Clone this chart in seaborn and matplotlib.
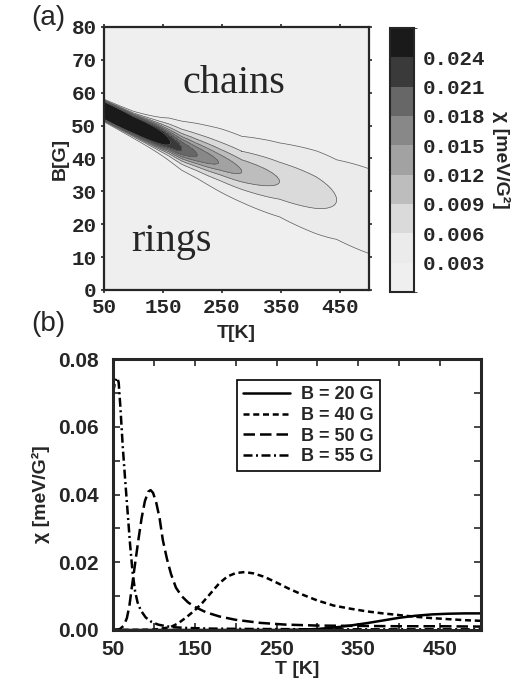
import numpy as np
import pandas as pd
import seaborn as sns
import matplotlib.pyplot as plt
from matplotlib.colors import ListedColormap, BoundaryNorm

# ---- panel (a): ridge of chi(T, B) ----
ridge_T = [50, 100, 160, 182, 208, 247, 284, 348, 411, 445, 500]
ridge_B = [54.6, 50.1, 45.0, 42.8, 41.0, 38.6, 36.0, 33.0, 29.5, 27.4, 24.0]
ridge_peak = [0.075, 0.040, 0.0245, 0.021, 0.018, 0.0148, 0.012, 0.009, 0.0072, 0.006, 0.0051]
ridge_w_up = [2.5, 2.8, 3.8, 4.3, 4.8, 5.3, 6.2, 8.3, 10.8, 12.2, 15.4]
ridge_w_lo = [2.5, 2.6, 2.9, 3.2, 3.5, 4.4, 5.4, 7.6, 10.5, 12.0, 15.4]
ridge_n = [10, 6, 3, 2.6, 2.3, 2, 2, 2, 2, 2, 2]

levels = [0, 0.003, 0.006, 0.009, 0.012, 0.015, 0.018, 0.021, 0.024, 0.027]
grey_shades = ['#efefef', '#ebebeb', '#dadada', '#bdbdbd', '#a2a2a2',
               '#888888', '#676767', '#3a3a3a', '#1a1a1a']
cbar_ticks = [0.003, 0.006, 0.009, 0.012, 0.015, 0.018, 0.021, 0.024]

# ---- panel (b): chi(T) cuts at fixed field ----
T_55 = [50, 52, 54, 55.5, 57, 59, 62, 65, 68, 71, 74, 77, 80, 84, 90, 97, 105, 115,
        125, 140, 170, 220, 300, 400, 500]
chi_55 = [0.0700, 0.0725, 0.0742, 0.0744, 0.0730, 0.0660, 0.0540, 0.0440, 0.0345,
          0.0250, 0.0170, 0.0115, 0.0082, 0.0058, 0.0037, 0.0024, 0.0016, 0.0011,
          0.0008, 0.0006, 0.0004, 0.0003, 0.0002, 0.0002, 0.0002]

T_50 = [50, 58, 63, 67, 70, 73, 77, 81, 85, 89, 93, 96, 99, 103, 107, 111, 116, 121,
        127, 134, 142, 152, 164, 180, 200, 230, 260, 300, 350, 400, 450, 500]
chi_50 = [0, 0.0002, 0.0012, 0.0035, 0.0070, 0.0125, 0.0195, 0.0265, 0.0330, 0.0380,
          0.0408, 0.0413, 0.0405, 0.0375, 0.0330, 0.0265, 0.0210, 0.0165, 0.0125,
          0.0100, 0.0081, 0.0066, 0.0052, 0.0040, 0.0030, 0.0021, 0.0016, 0.0013,
          0.0012, 0.0011, 0.0011, 0.0010]

T_40 = [50, 100, 120, 130, 140, 150, 160, 170, 180, 190, 200, 211, 222, 235, 250, 265,
        280, 300, 320, 340, 360, 380, 400, 420, 440, 460, 480, 500]
chi_40 = [0, 0.0001, 0.0008, 0.0020, 0.0038, 0.0058, 0.0082, 0.0110, 0.0138, 0.0158,
          0.0168, 0.0171, 0.0167, 0.0157, 0.0140, 0.0122, 0.0106, 0.0087, 0.0072,
          0.0063, 0.0055, 0.0049, 0.0044, 0.0039, 0.0035, 0.0032, 0.0029, 0.0027]

T_20 = [50, 250, 280, 300, 320, 340, 360, 380, 400, 420, 440, 460, 480, 500]
chi_20 = [0, 0, 0.0001, 0.0003, 0.0007, 0.0013, 0.0020, 0.0028, 0.0036, 0.0042,
          0.0046, 0.0048, 0.0049, 0.0049]

curves = [
    ("B = 20 G", T_20, chi_20, '-'),
    ("B = 40 G", T_40, chi_40, (0, (2.4, 1.5))),
    ("B = 50 G", T_50, chi_50, (0, (4.6, 2.0))),
    ("B = 55 G", T_55, chi_55, (0, (3.6, 1.4, 0.8, 1.4))),
]

sns.set_style("ticks")
plt.rcParams['font.family'] = ['Liberation Sans', 'DejaVu Sans']
mono = 'Liberation Mono'

fig = plt.figure(figsize=(5.24, 6.87), dpi=100)

# ---------------- (a) ----------------
ax1 = fig.add_axes([0.1985, 0.5779, 0.5057, 0.3828])
cax = fig.add_axes([0.7443, 0.575, 0.0458, 0.3843])

T = np.linspace(50, 500, 451)
B = np.linspace(0, 80, 801)
TT, BB = np.meshgrid(T, B)
bc = np.interp(TT, ridge_T, ridge_B)
pk = np.interp(TT, ridge_T, ridge_peak)
nn = np.interp(TT, ridge_T, ridge_n)
w = np.where(BB > bc, np.interp(TT, ridge_T, ridge_w_up), np.interp(TT, ridge_T, ridge_w_lo))
chi = pk / (1 + np.abs((BB - bc) / w) ** nn)
chi = np.minimum(chi, 0.0269)

cmap = ListedColormap(grey_shades)
norm = BoundaryNorm(levels, cmap.N)
cs = ax1.contourf(TT, BB, chi, levels=levels, cmap=cmap, norm=norm)
ax1.contour(TT, BB, chi, levels=levels[1:-1], colors='#5a5a5a', linewidths=0.5)

ax1.set_xlim(50, 500)
ax1.set_ylim(0, 80)
ax1.set_xticks([50, 150, 250, 350, 450])
ax1.set_yticks(range(0, 81, 10))
ax1.tick_params(direction='inout', length=5, width=1.2, top=True, right=True,
                labelsize=15, pad=3)
for lab in ax1.get_xticklabels() + ax1.get_yticklabels():
    lab.set_fontfamily(mono)
    lab.set_fontweight('bold')
for s in ax1.spines.values():
    s.set_linewidth(1.6)
ax1.set_xlabel("T[K]", fontsize=14, fontweight='bold', labelpad=6)
ax1.set_ylabel("B[G]", fontsize=14, fontweight='bold', labelpad=2)
ax1.text(271, 60, "chains", family='Liberation Serif', fontsize=29, ha='center', va='baseline')
ax1.text(165, 12, "rings", family='Liberation Serif', fontsize=29, ha='center', va='baseline')

cb = fig.colorbar(cs, cax=cax, ticks=cbar_ticks)
cb.ax.tick_params(length=0, labelsize=15, pad=6)
cb.ax.set_yticklabels([f"{v:.3f}" for v in cbar_ticks])
for lab in cb.ax.get_yticklabels():
    lab.set_fontfamily(mono)
    lab.set_fontweight('bold')
cb.outline.set_linewidth(1.5)
cb.set_label("χ [meV/G²]", rotation=270, fontsize=14, fontweight='bold', labelpad=18)

fig.text(0.059, 0.992, "(a)", fontsize=20, va='top', ha='left')

# ---------------- (b) ----------------
ax2 = fig.add_axes([0.2156, 0.0830, 0.7023, 0.3944])
for name, tx, cy, ls in curves:
    sns.lineplot(x=tx, y=cy, ax=ax2, color='k', linewidth=1.8, linestyle=ls, label=name)

ax2.set_xlim(50, 500)
ax2.set_ylim(0, 0.08)
ax2.set_xticks(range(50, 501, 50))
ax2.set_xticklabels([str(t) if (t - 50) % 100 == 0 else "" for t in range(50, 501, 50)])
ax2.set_yticks(np.arange(0, 0.0801, 0.01))
ax2.set_yticklabels([f"{v:.2f}" if i % 2 == 0 else "" for i, v in enumerate(np.arange(0, 0.0801, 0.01))])
ax2.tick_params(direction='in', length=5, width=1.2, top=True, right=True, labelsize=15)
ax2.tick_params(axis='y', pad=10)
ax2.tick_params(axis='x', pad=7)
for lab in ax2.get_xticklabels() + ax2.get_yticklabels():
    lab.set_fontweight('bold')
for s in ax2.spines.values():
    s.set_linewidth(2.2)
ax2.set_xlabel("T [K]", fontsize=14, fontweight='bold', labelpad=2)
ax2.set_ylabel("χ [meV/G²]", fontsize=14, fontweight='bold', labelpad=6)

leg = ax2.legend(loc='upper left', bbox_to_anchor=(0.337, 0.9225), borderaxespad=0,
                 fancybox=False, framealpha=1, edgecolor='k', handlelength=2.6,
                 handletextpad=0.6, labelspacing=0.2, borderpad=0.35,
                 prop={'weight': 'bold', 'size': 13})
leg.get_frame().set_linewidth(1.2)

fig.text(0.059, 0.548, "(b)", fontsize=20, va='top', ha='left')

fig.savefig("out.png", dpi=100)
